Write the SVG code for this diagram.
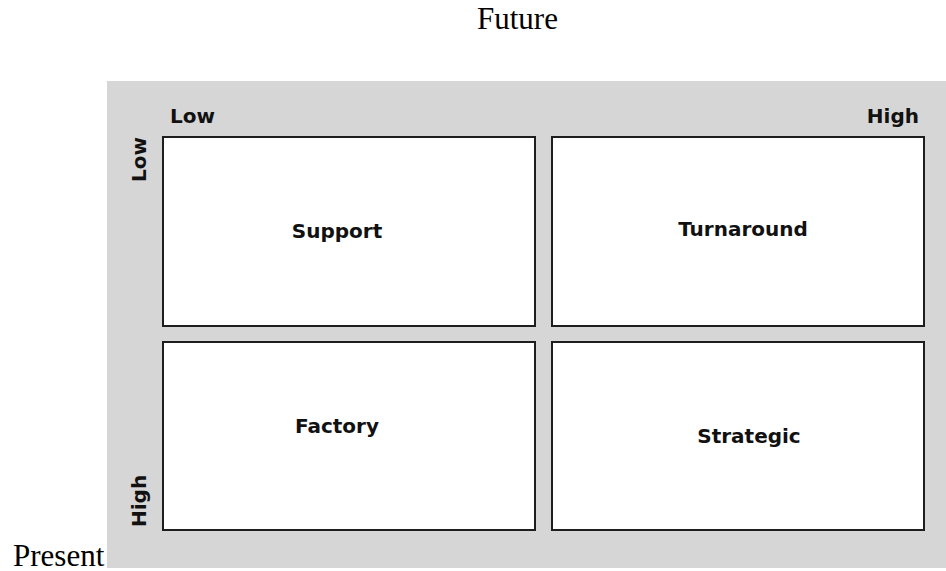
<svg xmlns="http://www.w3.org/2000/svg" width="946" height="571" viewBox="0 0 946 571">
  <style>
    .cell { fill: #ffffff; stroke: #1e1e1e; stroke-width: 2; }
    .lbl { font-family: "DejaVu Sans", "Liberation Sans", sans-serif; font-weight: bold; font-size: 20px; fill: #111111; }
    .axis { font-family: "Liberation Serif", "Times New Roman", serif; font-size: 31px; fill: #000000; }
  </style>
  <rect width="946" height="571" fill="#ffffff"/>
  <text class="axis" x="477" y="29">Future</text>
  <text class="axis" x="13" y="566">Present</text>
  <rect id="panel" x="107" y="81" width="839" height="487" fill="#d6d6d6"/>
  <g id="scale-labels">
    <text class="lbl" x="170" y="123">Low</text>
    <text class="lbl" x="919" y="123" text-anchor="end">High</text>
    <text class="lbl" transform="translate(146,182) rotate(-90)">Low</text>
    <text class="lbl" transform="translate(146,527) rotate(-90)">High</text>
  </g>
  <g id="support">
    <rect class="cell" x="163" y="137" width="372" height="189"/>
    <text class="lbl" x="337" y="238" text-anchor="middle">Support</text>
  </g>
  <g id="turnaround">
    <rect class="cell" x="552" y="137" width="372" height="189"/>
    <text class="lbl" x="743" y="236" text-anchor="middle">Turnaround</text>
  </g>
  <g id="factory">
    <rect class="cell" x="163" y="342" width="372" height="188"/>
    <text class="lbl" x="337" y="433" text-anchor="middle">Factory</text>
  </g>
  <g id="strategic">
    <rect class="cell" x="552" y="342" width="372" height="188"/>
    <text class="lbl" x="749" y="443" text-anchor="middle">Strategic</text>
  </g>
  <g id="connectors"/>
</svg>
